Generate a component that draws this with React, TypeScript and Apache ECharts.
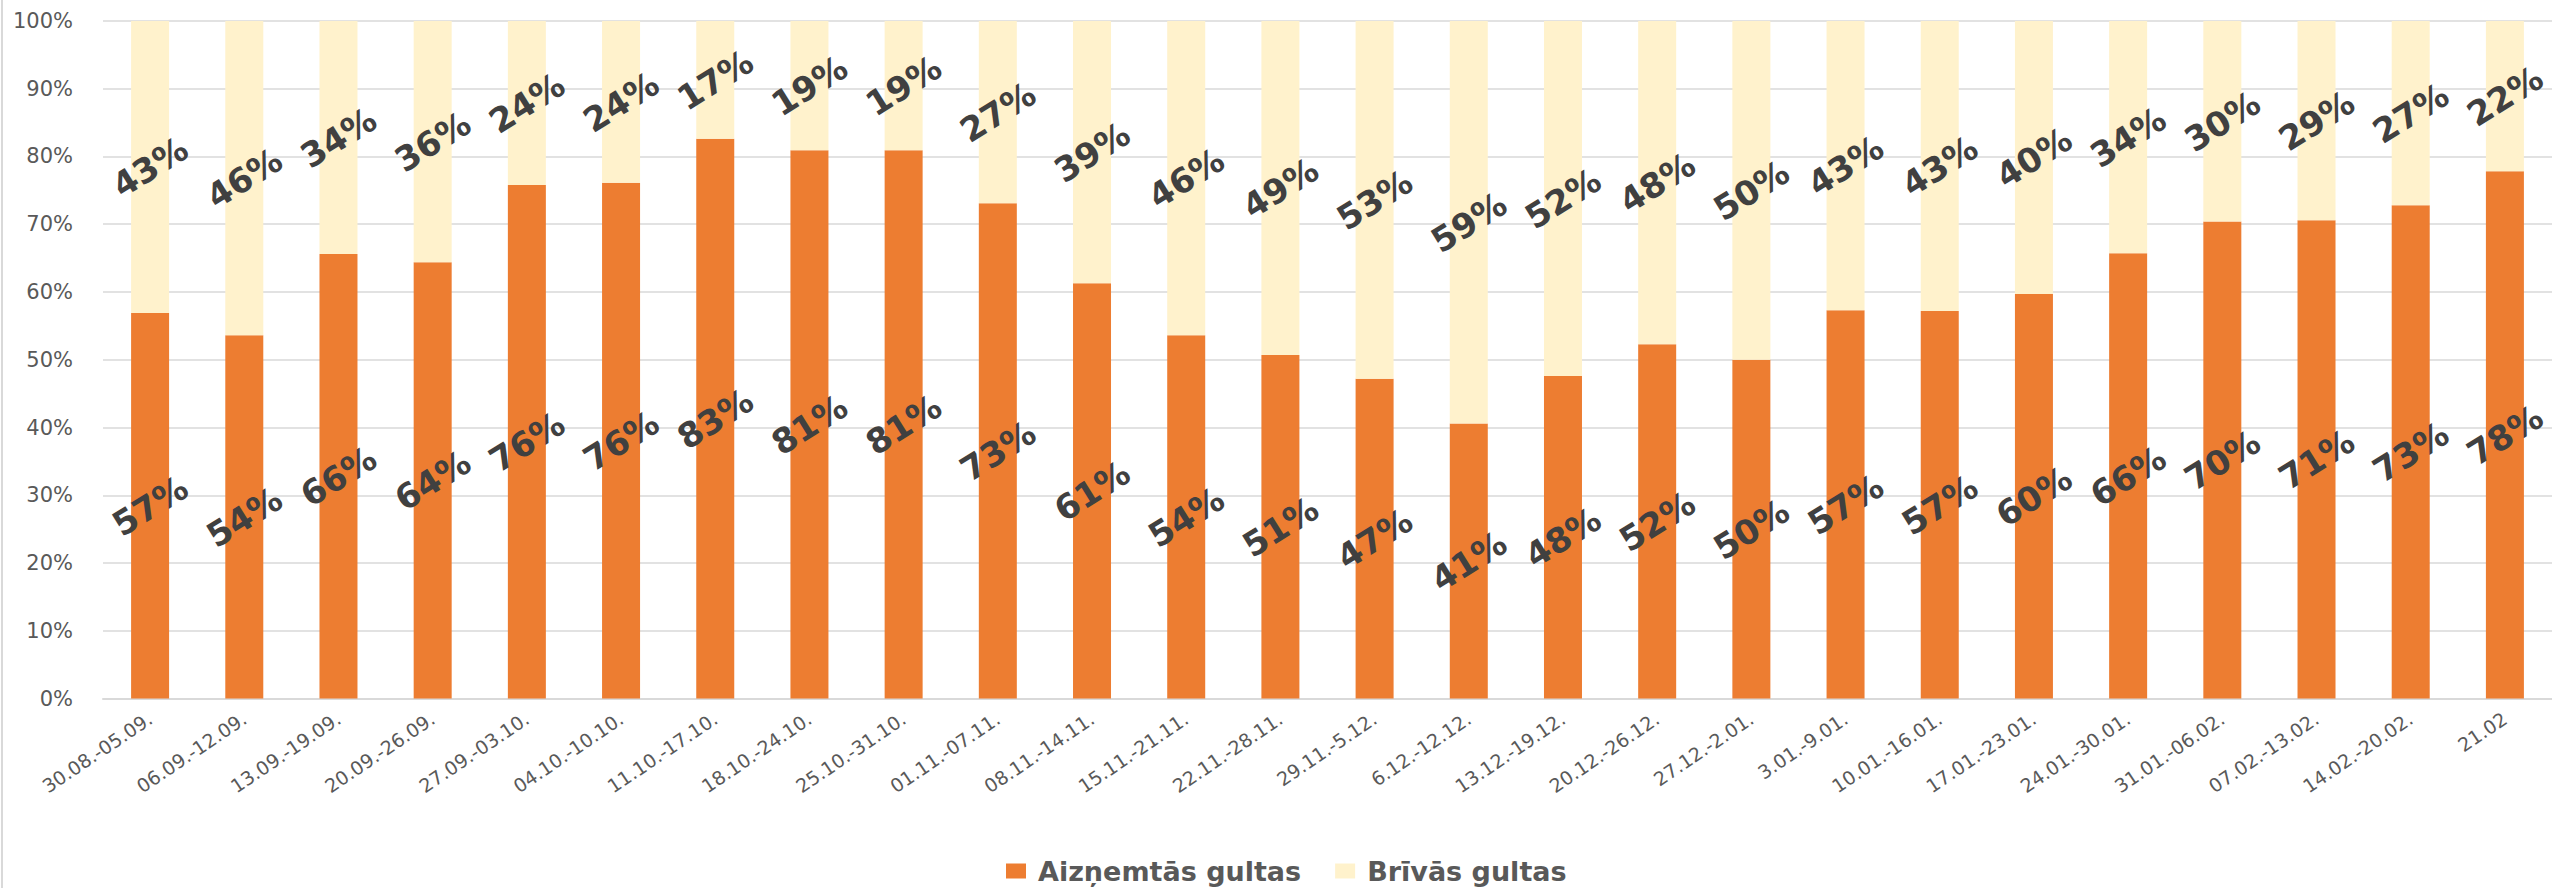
import React, { useEffect, useRef } from "react";
import * as echarts from "echarts";

const categories = [
  "30.08.-05.09.", "06.09.-12.09.", "13.09.-19.09.", "20.09.-26.09.", "27.09.-03.10.",
  "04.10.-10.10.", "11.10.-17.10.", "18.10.-24.10.", "25.10.-31.10.", "01.11.-07.11.",
  "08.11.-14.11.", "15.11.-21.11.", "22.11.-28.11.", "29.11.-5.12.", "6.12.-12.12.",
  "13.12.-19.12.", "20.12.-26.12.", "27.12.-2.01.", "3.01.-9.01.", "10.01.-16.01.",
  "17.01.-23.01.", "24.01.-30.01.", "31.01.-06.02.", "07.02.-13.02.", "14.02.-20.02.", "21.02",
];

const occupied = [
  56.9, 53.6, 65.6, 64.4, 75.8, 76.1, 82.6, 80.9, 80.9, 73.1, 61.3, 53.6, 50.7,
  47.2, 40.6, 47.6, 52.3, 50.0, 57.3, 57.2, 59.7, 65.7, 70.4, 70.6, 72.8, 77.8,
];

const free = [
  43.1, 46.4, 34.4, 35.6, 24.2, 23.9, 17.4, 19.1, 19.1, 26.9, 38.7, 46.4, 49.3,
  52.8, 59.4, 52.4, 47.7, 50.0, 42.7, 42.8, 40.3, 34.3, 29.6, 29.4, 27.2, 22.2,
];

const seriesNames = ["Aizņemtās gultas", "Brīvās gultas"];
const yTicks = [0, 10, 20, 30, 40, 50, 60, 70, 80, 90, 100];

const FONT = "DejaVu Sans";

export default function App() {
  const ref = useRef<HTMLDivElement>(null);

  useEffect(() => {
    if (!ref.current) return;
    const chart = echarts.init(ref.current, null, { renderer: "svg" });
    const label = {
      show: true,
      position: "inside",
      rotate: 32,
      color: "#404040",
      fontFamily: FONT,
      fontWeight: "bold",
      fontSize: 34,
      formatter: (p: any) => Math.round(p.value) + "%",
    };
    chart.setOption({
      animation: false,
      backgroundColor: "#ffffff",
      grid: { left: 103, top: 20.9, width: 2456.5, height: 677.7, containLabel: false },
      legend: {
        left: 1001,
        top: 851,
        itemWidth: 20,
        itemHeight: 15,
        itemGap: 34,
        icon: "rect",
        textStyle: {
          fontFamily: FONT,
          fontWeight: "bold",
          fontSize: 27,
          lineHeight: 30,
          color: "#595959",
          padding: [0, 0, 0, 7],
        },
        data: seriesNames,
      },
      xAxis: {
        type: "category",
        data: categories,
        axisLine: { show: true, lineStyle: { color: "#D9D9D9", width: 2 } },
        axisTick: { show: false },
        axisLabel: {
          interval: 0,
          rotate: 34,
          margin: 18,
          fontFamily: FONT,
          fontSize: 19,
          color: "#595959",
        },
      },
      yAxis: {
        type: "value",
        min: yTicks[0],
        max: yTicks[yTicks.length - 1],
        interval: 10,
        axisLine: { show: false },
        axisTick: { show: false },
        splitLine: { lineStyle: { color: "#D9D9D9", width: 1.5 } },
        axisLabel: {
          margin: 30,
          fontFamily: FONT,
          fontSize: 21,
          color: "#595959",
          formatter: (v: number) => v + "%",
        },
      },
      graphic: [
        {
          type: "line",
          shape: { x1: 2, y1: 0, x2: 2, y2: 888 },
          style: { stroke: "#D9D9D9", lineWidth: 2 },
          silent: true,
        },
      ],
      series: [
        {
          name: seriesNames[0],
          type: "bar",
          stack: "total",
          barWidth: 38,
          data: occupied,
          itemStyle: { color: "#ED7D31" },
          label,
        },
        {
          name: seriesNames[1],
          type: "bar",
          stack: "total",
          barWidth: 38,
          data: free,
          itemStyle: { color: "#FFF2CC" },
          label,
        },
      ],
    });
    return () => chart.dispose();
  }, []);

  return (
    <div
      ref={ref}
      style={{ position: "fixed", left: 0, top: 0, width: 2552, height: 888, background: "#fff" }}
    />
  );
}
